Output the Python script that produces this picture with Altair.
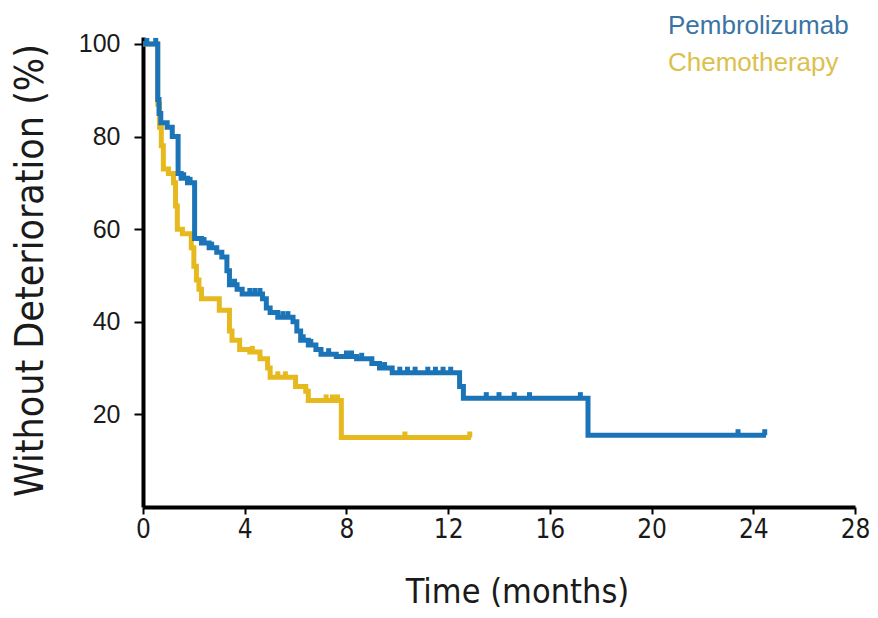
import altair as alt
import pandas as pd

# Kaplan-Meier steps (time in months, % without deterioration)
pembro_t = [0, 0.58, 0.63, 0.7, 0.95, 1.15, 1.38, 1.5, 1.75, 2.03, 2.3, 2.6, 2.9, 3.1, 3.3, 3.4,
            3.7, 3.9, 4.7, 4.85, 5.0, 5.3, 5.9, 6.05, 6.2, 6.5, 6.8, 7.0, 7.6, 8.4, 9.0, 9.3,
            9.8, 12.45, 12.6, 17.5, 24.5]
pembro_s = [100, 88, 85, 83, 82, 80, 72, 71, 70, 58, 57, 56, 55, 54, 51, 48,
            47, 46, 45, 43, 42, 41, 40, 38, 36, 35, 34, 33, 32.5, 32, 31, 30,
            29, 26, 23.5, 15.5, 15.5]
chemo_t = [0, 0.58, 0.65, 0.72, 0.8, 1.0, 1.2, 1.28, 1.35, 1.55, 1.9, 2.0, 2.1, 2.2, 2.3,
           3.0, 3.4, 3.5, 3.8, 4.2, 4.6, 4.9, 5.0, 6.0, 6.4, 6.5, 7.8, 12.9]
chemo_s = [100, 87, 82, 78, 73, 72, 70, 65, 60, 59, 56, 52, 49, 47, 45,
           42.5, 38, 36, 34, 33.5, 32, 30, 28, 26, 25, 23, 15, 15]

pembro_censor = [0.15, 0.5, 1.6, 1.85, 2.4, 2.7, 3.6, 4.2, 4.4, 4.6, 5.5, 5.7, 6.3, 6.6, 7.3,
                 8.0, 8.2, 8.6, 9.5, 10.1, 10.4, 10.7, 11.2, 11.5, 11.8, 12.1, 13.5, 14.0,
                 14.6, 15.2, 17.2, 23.4, 24.45]
chemo_censor = [4.3, 5.3, 5.6, 7.2, 7.45, 7.65, 10.3, 12.85]

series = ["Pembrolizumab", "Chemotherapy"]
colors = ["#1b74b8", "#e6b91e"]
text_colors = ["#3a74a4", "#dcc04c"]

x_ticks = [0, 4, 8, 12, 16, 20, 24, 28]
y_ticks = [20, 40, 60, 80, 100]


def level_at(ts, ss, t):
    lv = ss[0]
    for ti, si in zip(ts, ss):
        if ti <= t:
            lv = si
    return lv


curve_rows = []
for name, ts, ss in [(series[1], chemo_t, chemo_s), (series[0], pembro_t, pembro_s)]:
    for i, (t, s) in enumerate(zip(ts, ss)):
        curve_rows.append({"series": name, "t": t, "s": s, "order": i})
curves = pd.DataFrame(curve_rows)

cens_rows = []
for name, ts, ss, cs in [(series[1], chemo_t, chemo_s, chemo_censor),
                         (series[0], pembro_t, pembro_s, pembro_censor)]:
    for c in cs:
        lv = level_at(ts, ss, c)
        cens_rows.append({"series": name, "t": c, "s": lv, "s2": lv + 1.3})
cens = pd.DataFrame(cens_rows)

legend_df = pd.DataFrame({"series": series})

color_scale = alt.Scale(domain=series, range=colors)
font_narrow = "Liberation Sans Narrow, DejaVu Sans Condensed, Liberation Sans, sans-serif"

x_enc = alt.X("t:Q", scale=alt.Scale(domain=[0, 28], nice=False),
              axis=alt.Axis(values=x_ticks, title="Time (months)", grid=False,
                            domainColor="black", domainWidth=4, tickColor="black",
                            tickWidth=2, tickSize=7, labelFontSize=26, labelFont=font_narrow,
                            labelColor="#1a1a1a", labelPadding=2, labelFlush=False,
                            titleFont=font_narrow,
                            titleFontSize=34, titleFontWeight="normal", titleColor="#1a1a1a",
                            titleX=374, titleY=95, titleBaseline="alphabetic"))
y_enc = alt.Y("s:Q", scale=alt.Scale(domain=[0, 101.5], nice=False),
              axis=alt.Axis(values=y_ticks, title="Without Deterioration (%)", grid=False,
                            domainColor="black", domainWidth=4, tickColor="black",
                            tickWidth=2, tickSize=9, labelFontSize=25,
                            labelFont="Liberation Sans, Arial, sans-serif",
                            labelColor="#1a1a1a", labelPadding=14, labelFlush=False,
                            titleFont=font_narrow,
                            titleFontSize=39, titleFontWeight="normal", titleColor="#1a1a1a",
                            titleX=-93, titleY=233, titleBaseline="bottom", titleAlign="center"))

lines = alt.Chart(curves).mark_line(interpolate="step-after", strokeWidth=5).encode(
    x=x_enc, y=y_enc,
    color=alt.Color("series:N", scale=color_scale, legend=None),
    detail="series:N",
    order="order:Q",
)

ticks = alt.Chart(cens).mark_rule(strokeWidth=5).encode(
    x="t:Q", y="s:Q", y2="s2:Q",
    color=alt.Color("series:N", scale=color_scale, legend=None),
)

legend_layers = []
for i, (name, tc, ypix) in enumerate(zip(series, text_colors, [-11, 26])):
    legend_layers.append(
        alt.Chart(legend_df[legend_df["series"] == name]).mark_text(
            align="left", baseline="middle", fontSize=26,
            font="Liberation Sans, Arial, sans-serif"
        ).encode(
            x=alt.value(525),
            y=alt.value(ypix),
            text="series:N",
            color=alt.value(tc),
        )
    )

chart = alt.layer(lines, ticks, *legend_layers).properties(
    width=712, height=470,
    background="white",
    autosize=alt.AutoSizeParams(type="none"),
    padding={"left": 135, "top": 29, "right": 15, "bottom": 102},
).configure_view(stroke=None, strokeWidth=0)

chart.save("out.html", embed_options={"renderer": "svg", "actions": False})
